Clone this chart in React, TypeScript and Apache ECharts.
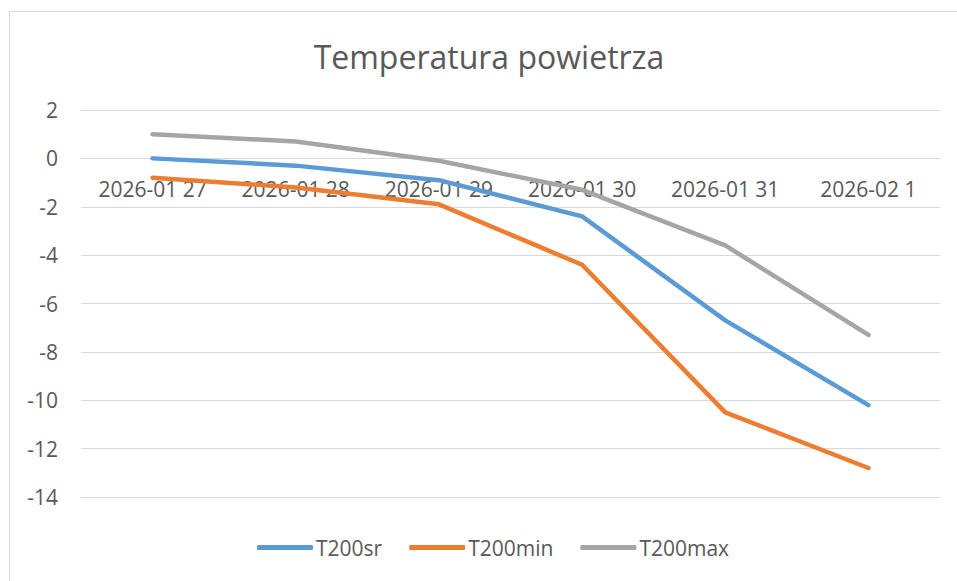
import React, { useEffect, useRef } from "react";
import * as echarts from "echarts";

const categories = ["2026-01 27", "2026-01 28", "2026-01 29", "2026-01 30", "2026-01 31", "2026-02 1"];
const seriesNames = ["T200sr", "T200min", "T200max"];
const t200sr = [0.0, -0.3, -0.9, -2.4, -6.7, -10.2];
const t200min = [-0.8, -1.2, -1.9, -4.4, -10.5, -12.8];
const t200max = [1.0, 0.7, -0.1, -1.3, -3.6, -7.3];
const colors = ["#5B9BD5", "#ED7D31", "#A5A5A5"];
const titleText = "Temperatura powietrza";

const FONT = "'Open Sans', sans-serif";
const TEXT_COLOR = "#595959";

const Y_MIN = -14;
const Y_MAX = 2;
const GRID_TOP = 110;
const GRID_BOTTOM = 84;
const CHART_H = 581;

export default function App() {
  const ref = useRef<HTMLDivElement>(null);

  useEffect(() => {
    if (!ref.current) return;
    const chart = echarts.init(ref.current, null, { renderer: "svg" });
    const data = [t200sr, t200min, t200max];
    // place the category axis where y = 0 (Excel "axis crosses at 0")
    const plotH = CHART_H - GRID_TOP - GRID_BOTTOM;
    const zeroFromBottom = ((0 - Y_MIN) / (Y_MAX - Y_MIN)) * plotH;
    chart.setOption({
      animation: false,
      backgroundColor: "#FFFFFF",
      textStyle: { fontFamily: FONT },
      title: {
        text: titleText,
        left: 484,
        textAlign: "center",
        top: 35,
        textStyle: { fontFamily: FONT, fontSize: 32, fontWeight: "normal", color: TEXT_COLOR },
      },
      graphic: [
        {
          type: "rect",
          silent: true,
          shape: { x: 9.5, y: 11.5, width: 1200, height: 1200 },
          style: { fill: "none", stroke: "#D9D9D9", lineWidth: 1 },
          z: -1,
        },
      ],
      legend: {
        data: seriesNames.map((n) => ({ name: n, icon: "roundRect" })),
        left: 252,
        top: 532,
        itemWidth: 56,
        itemHeight: 5,
        itemGap: 27,
        textStyle: { fontFamily: FONT, fontSize: 21, color: TEXT_COLOR, padding: [0, 0, 0, -2] },
      },
      grid: { left: 81, right: 17, top: GRID_TOP, bottom: GRID_BOTTOM, containLabel: false },
      xAxis: {
        type: "category",
        data: categories,
        boundaryGap: true,
        position: "bottom",
        offset: -zeroFromBottom,
        axisLine: { show: true, onZero: false, lineStyle: { color: "#D9D9D9", width: 1 } },
        axisTick: { show: false },
        axisLabel: { fontFamily: FONT, fontSize: 21, color: TEXT_COLOR, margin: 20, interval: 0 },
        splitLine: { show: false },
      },
      yAxis: {
        type: "value",
        min: Y_MIN,
        max: Y_MAX,
        interval: 2,
        axisLine: { show: false },
        axisTick: { show: false },
        axisLabel: { fontFamily: FONT, fontSize: 21, color: TEXT_COLOR, margin: 23 },
        splitLine: { show: true, lineStyle: { color: "#D9D9D9", width: 1 } },
      },
      series: seriesNames.map((name, i) => ({
        name,
        type: "line",
        data: data[i],
        symbol: "none",
        color: colors[i],
        lineStyle: { color: colors[i], width: 4.5, cap: "round", join: "round" },
        itemStyle: { color: colors[i] },
      })),
    });
    return () => chart.dispose();
  }, []);

  return (
    <div
      ref={ref}
      style={{ position: "fixed", left: 0, top: 0, width: 957, height: 581, background: "#FFFFFF" }}
    />
  );
}
